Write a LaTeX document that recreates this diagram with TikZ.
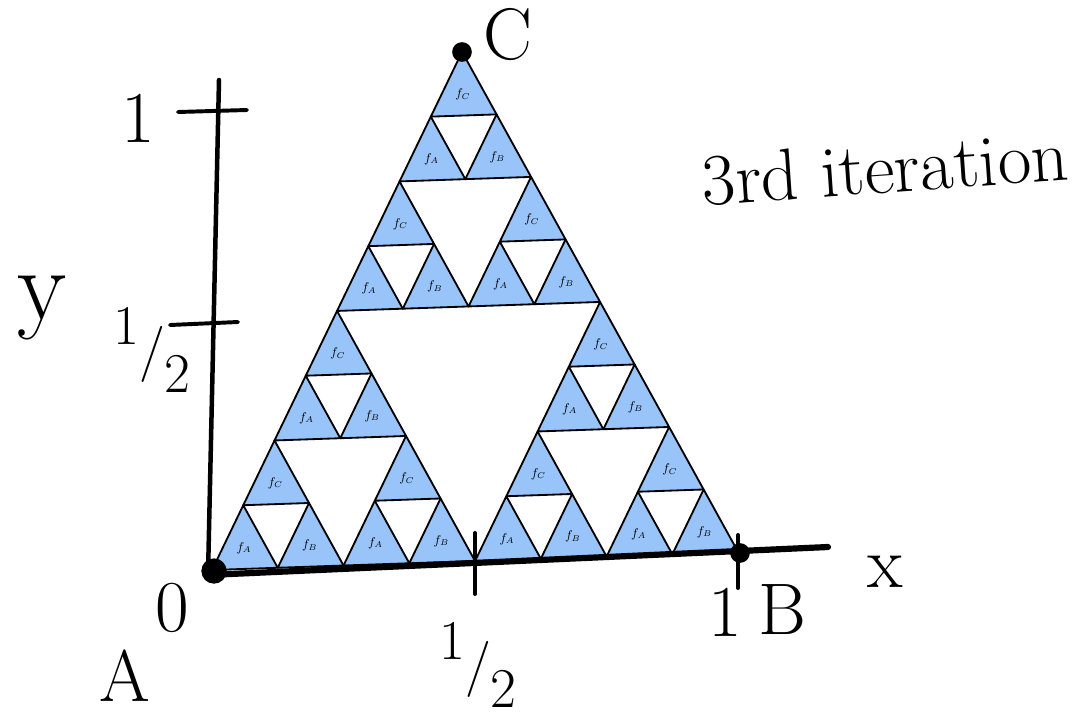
\documentclass[tikz,border=0pt]{standalone}
\usetikzlibrary{calc}
\definecolor{fillblue}{RGB}{152,196,250}
\newcommand\halfmark{\raisebox{0.42em}{1}/\raisebox{-0.42em}{2}}
\begin{document}
\begin{tikzpicture}[x=0.025cm, y=-0.025cm,
  axis/.style={line width=4.4pt, line cap=round},
  tick/.style={line width=2.8pt, line cap=round},
  piece/.style={fill=fillblue, draw=black, line width=1.3pt, line join=round},
  maplbl/.style={font=\small},
  hand/.style={font=\fontsize{52}{52}\selectfont},
  frac/.style={font=\fontsize{40}{40}\selectfont, inner sep=0pt},
  vertex/.style={circle, fill=black, inner sep=0pt, minimum size=#1},
]
\useasboundingbox (0,0) rectangle (1081,725);
% corners of the big triangle
\coordinate (A) at (212,570);
\coordinate (B) at (738,552);
\coordinate (C) at (462,52);

% the 27 pieces of the third iteration
\begin{scope}[shift={(A)}, x={(1.64375cm,0.05625cm)}, y={(0.78125cm,1.61875cm)}]
  \foreach \ua/\va in {0/0,4/0,0/4}
  \foreach \ub/\vb in {0/0,2/0,0/2}
  \foreach \uc/\vc/\m in {0/0/A,1/0/B,0/1/C} {
    \pgfmathsetmacro\u{\ua+\ub+\uc}
    \pgfmathsetmacro\v{\va+\vb+\vc}
    \draw[piece] (\u,\v) -- ++(1,0) -- ++(-1,1) -- cycle;
    \node[maplbl] at (\u+0.33,\v+0.33) {$f_\m$};
  }
\end{scope}

% axes
\coordinate (O) at (208,575);
\coordinate (xend) at (828,547);
\coordinate (ytop) at (219,80);
\draw[axis] (O) -- (xend);
\draw[axis, line width=3.2pt] (O) -- (ytop);
\draw[tick] (178,112) -- (247,110);
\draw[tick] (170,325) -- (238,322);
\draw[tick] (475,533) -- (475,594);
\draw[tick] (738,535) -- (738,588);

% corner dots
\node[vertex=18pt] (dotA) at (214,571) {};
\node[vertex=14pt] (dotB) at (740,553) {};
\node[vertex=14pt] (dotC) at (462,52) {};

% hand labels
\node[hand, font=\fontsize{72}{72}\selectfont] (ylbl) at (42,308) {y};
\node[hand] (oney)  at (138,118) {1};
\node[frac] (halfy) at (152,350) {\halfmark};
\node[hand] (xlbl)  at (885,572) {x};
\node[hand] (zero)  at (172,608) {0};
\node[frac] (halfx) at (478,665) {\halfmark};
\node[hand] (onex)  at (725,612) {1};
\node[hand] (Blbl)  at (782,610) {B};
\node[hand, inner sep=0pt] (Albl) at (125,676) {A};
\node[hand] (Clbl)  at (508,35)  {C};
\node[hand, rotate=4] (iter) at (885,168) {3rd iteration};
\end{tikzpicture}
\end{document}
